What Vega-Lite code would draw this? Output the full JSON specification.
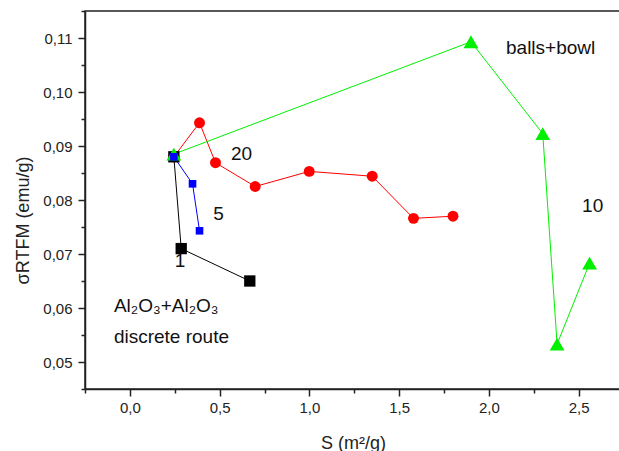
{
  "$schema": "https://vega.github.io/schema/vega-lite/v6.json",
  "width": 536,
  "height": 378,
  "autosize": {"type": "none"},
  "padding": {"left": 85, "top": 11, "right": 0, "bottom": 62},
  "background": "white",
  "config": {
    "view": {"stroke": "#222", "strokeWidth": 1.5},
    "font": "Liberation Sans"
  },
  "datasets": {
    "pts": [
      {"series": "20", "ord": 1, "S": 0.245, "sigma": 0.088},
      {"series": "20", "ord": 2, "S": 0.388, "sigma": 0.0943},
      {"series": "20", "ord": 3, "S": 0.477, "sigma": 0.0869},
      {"series": "20", "ord": 4, "S": 0.698, "sigma": 0.0825},
      {"series": "20", "ord": 5, "S": 0.999, "sigma": 0.0853},
      {"series": "20", "ord": 6, "S": 1.35, "sigma": 0.0844},
      {"series": "20", "ord": 7, "S": 1.58, "sigma": 0.0766},
      {"series": "20", "ord": 8, "S": 1.8, "sigma": 0.077},
      {"series": "1", "ord": 1, "S": 0.245, "sigma": 0.088},
      {"series": "1", "ord": 2, "S": 0.286, "sigma": 0.071},
      {"series": "1", "ord": 3, "S": 0.668, "sigma": 0.065},
      {"series": "10", "ord": 1, "S": 0.245, "sigma": 0.0885},
      {"series": "10", "ord": 2, "S": 1.9, "sigma": 0.1093},
      {"series": "10", "ord": 3, "S": 2.3, "sigma": 0.0923},
      {"series": "10", "ord": 4, "S": 2.38, "sigma": 0.0533},
      {"series": "10", "ord": 5, "S": 2.561, "sigma": 0.0683},
      {"series": "5", "ord": 1, "S": 0.245, "sigma": 0.088},
      {"series": "5", "ord": 2, "S": 0.349, "sigma": 0.083},
      {"series": "5", "ord": 3, "S": 0.388, "sigma": 0.0743}
    ],
    "labels": [
      {"S": 2.344, "sigma": 0.1081, "text": "balls+bowl", "align": "center"},
      {"S": 2.578, "sigma": 0.0789, "text": "10", "align": "center"},
      {"S": 0.622, "sigma": 0.0885, "text": "20", "align": "center"},
      {"S": 0.494, "sigma": 0.0775, "text": "5", "align": "center"},
      {"S": 0.28, "sigma": 0.0687, "text": "1", "align": "center"},
      {"S": -0.089, "sigma": 0.0604, "text": "Al₂O₃+Al₂O₃", "align": "left"},
      {"S": -0.089, "sigma": 0.0546, "text": "discrete route", "align": "left"}
    ]
  },
  "layer": [
    {
      "data": {"name": "pts"},
      "mark": {"type": "line", "strokeWidth": 1},
      "encoding": {
        "x": {
          "field": "S", "type": "quantitative",
          "scale": {"domain": [-0.25, 2.736], "nice": false, "zero": false},
          "axis": {
            "title": "S (m²/g)",
            "values": [-0.25, 0, 0.25, 0.5, 0.75, 1, 1.25, 1.5, 1.75, 2, 2.25, 2.5],
            "tickCount": 100,
            "labelExpr": "abs(round(datum.value*4)) % 2 == 1 ? '' : replace(format(datum.value, '.1f'), '.', ',')",
            "tickSize": {"condition": {"test": "abs(round(datum.value*4)) % 2 == 1", "value": 4}, "value": 7},
            "tickColor": "#222", "tickWidth": 1.5,
            "domainColor": "#222", "domainWidth": 1.5,
            "labelFont": "Liberation Sans", "labelFontSize": 15, "labelColor": "#222",
            "labelPadding": 4, "labelFlush": false, "labelOverlap": false,
            "grid": false,
            "titleFont": "Liberation Sans", "titleFontSize": 18, "titleFontWeight": "normal", "titleColor": "#222",
            "titlePadding": 19
          }
        },
        "y": {
          "field": "sigma", "type": "quantitative",
          "scale": {"domain": [0.045, 0.115], "nice": false, "zero": false},
          "axis": {
            "title": "σRTFM (emu/g)",
            "values": [0.045, 0.05, 0.055, 0.06, 0.065, 0.07, 0.075, 0.08, 0.085, 0.09, 0.095, 0.1, 0.105, 0.11, 0.115],
            "tickCount": 100,
            "labelExpr": "round(datum.value*200) % 2 == 1 ? '' : replace(format(datum.value, '.2f'), '.', ',')",
            "tickSize": {"condition": {"test": "round(datum.value*200) % 2 == 1", "value": 4}, "value": 7},
            "tickColor": "#222", "tickWidth": 1.5,
            "domainColor": "#222", "domainWidth": 1.5,
            "labelFont": "Liberation Sans", "labelFontSize": 15, "labelColor": "#222",
            "labelPadding": 6, "labelFlush": false, "labelOverlap": false,
            "grid": false,
            "titleFont": "Liberation Sans", "titleFontSize": 18, "titleFontWeight": "normal", "titleColor": "#222",
            "titlePadding": 10, "titleY": 209
          }
        },
        "color": {
          "field": "series", "type": "nominal",
          "scale": {"domain": ["20", "1", "10", "5"], "range": ["#ff0000", "#000000", "#00f000", "#0000ff"]},
          "legend": null
        },
        "order": {"field": "ord", "type": "quantitative"}
      }
    },
    {
      "data": {"name": "pts"},
      "transform": [{"filter": "datum.series == '20'"}],
      "mark": {"type": "point", "filled": true, "opacity": 1, "strokeWidth": 0, "shape": "circle", "size": 120, "color": "#ff0000"},
      "encoding": {
        "x": {"field": "S", "type": "quantitative"},
        "y": {"field": "sigma", "type": "quantitative"}
      }
    },
    {
      "data": {"name": "pts"},
      "transform": [{"filter": "datum.series == '1'"}],
      "mark": {"type": "point", "filled": true, "opacity": 1, "strokeWidth": 0, "shape": "square", "size": 128, "color": "#000000"},
      "encoding": {
        "x": {"field": "S", "type": "quantitative"},
        "y": {"field": "sigma", "type": "quantitative"}
      }
    },
    {
      "data": {"name": "pts"},
      "transform": [{"filter": "datum.series == '10'"}],
      "mark": {"type": "point", "filled": true, "opacity": 1, "strokeWidth": 0, "shape": "triangle-up", "size": 220, "color": "#00f000"},
      "encoding": {
        "x": {"field": "S", "type": "quantitative"},
        "y": {"field": "sigma", "type": "quantitative"}
      }
    },
    {
      "data": {"name": "pts"},
      "transform": [{"filter": "datum.series == '5'"}],
      "mark": {"type": "point", "filled": true, "opacity": 1, "strokeWidth": 0, "shape": "square", "size": 58, "color": "#0000ff"},
      "encoding": {
        "x": {"field": "S", "type": "quantitative"},
        "y": {"field": "sigma", "type": "quantitative"}
      }
    },
    {
      "data": {"name": "labels"},
      "transform": [{"filter": "datum.align == 'center'"}],
      "mark": {"type": "text", "font": "Liberation Sans", "fontSize": 19, "color": "#111", "baseline": "middle", "align": "center"},
      "encoding": {
        "x": {"field": "S", "type": "quantitative"},
        "y": {"field": "sigma", "type": "quantitative"},
        "text": {"field": "text"}
      }
    },
    {
      "data": {"name": "labels"},
      "transform": [{"filter": "datum.align == 'left'"}],
      "mark": {"type": "text", "font": "Liberation Sans", "fontSize": 19, "color": "#111", "baseline": "middle", "align": "left"},
      "encoding": {
        "x": {"field": "S", "type": "quantitative"},
        "y": {"field": "sigma", "type": "quantitative"},
        "text": {"field": "text"}
      }
    }
  ]
}
